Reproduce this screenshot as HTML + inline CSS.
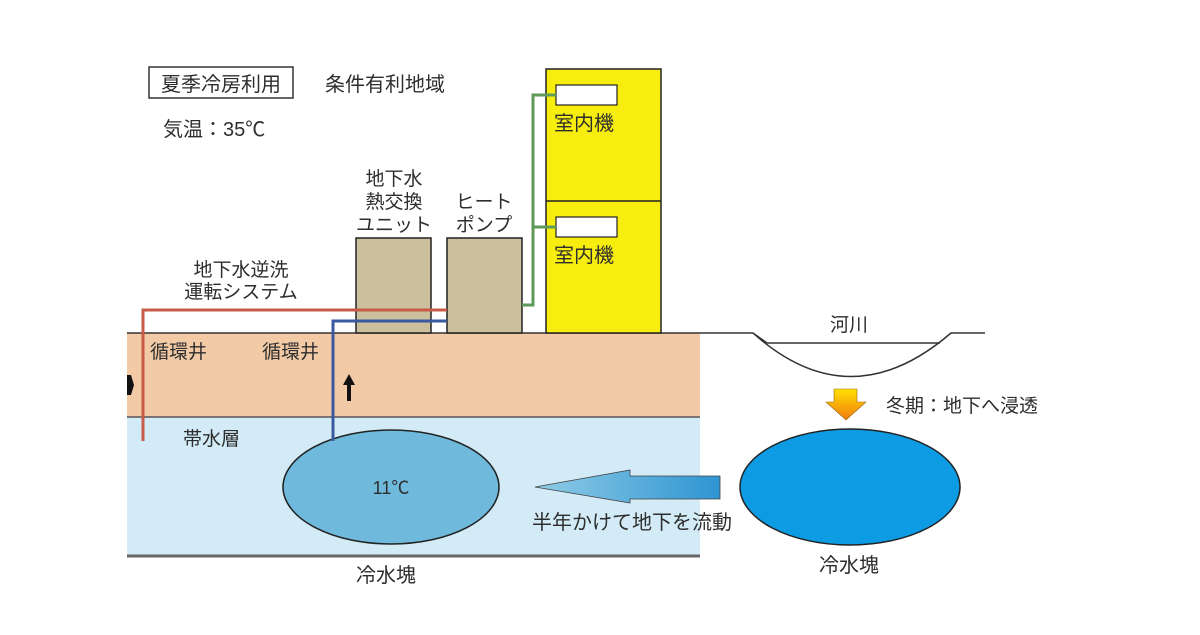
<!DOCTYPE html>
<html><head><meta charset="utf-8"><style>
html,body{margin:0;padding:0;background:#fff;}
svg text{font-family:"Liberation Sans","Noto Sans CJK JP",sans-serif;fill:#2e2e2e;}
</style></head><body>
<svg width="1200" height="630" viewBox="0 0 1200 630" xmlns="http://www.w3.org/2000/svg">
<defs>
<linearGradient id="ag" x1="0" x2="1" y1="0" y2="0"><stop offset="0" stop-color="#8fcbe6"/><stop offset="1" stop-color="#2f95d2"/></linearGradient>
<linearGradient id="og" x1="0" x2="0" y1="0" y2="1"><stop offset="0" stop-color="#ffe000"/><stop offset="1" stop-color="#f07a10"/></linearGradient>
</defs>
<rect x="127" y="333" width="573" height="84" fill="#f2caa6"/>
<rect x="127" y="417" width="573" height="139" fill="#d2ebf6"/>
<line x1="127" y1="417" x2="700" y2="417" stroke="#555" stroke-width="1.5"/>
<line x1="127" y1="556" x2="700" y2="556" stroke="#666" stroke-width="3"/>
<path d="M127 333 H753 L767 343" fill="none" stroke="#333" stroke-width="1.5"/>
<path d="M753 333 Q850 420 951 333 H985" fill="none" stroke="#333" stroke-width="1.5"/>
<line x1="767" y1="343" x2="940" y2="343" stroke="#333" stroke-width="1.5"/>
<rect x="356" y="238" width="75" height="95" fill="#cbbf9e" stroke="#222" stroke-width="1.5"/>
<rect x="447" y="238" width="75" height="95" fill="#cbbf9e" stroke="#222" stroke-width="1.5"/>
<rect x="546" y="69" width="115" height="264" fill="#f7ed0e" stroke="#222" stroke-width="1.5"/>
<line x1="546" y1="201" x2="661" y2="201" stroke="#222" stroke-width="1.5"/>
<rect x="556" y="85" width="61" height="20" fill="#fff" stroke="#222" stroke-width="1.2"/>
<rect x="556" y="217" width="61" height="20" fill="#fff" stroke="#222" stroke-width="1.2"/>
<path d="M143 441 V310 H447" fill="none" stroke="#c85a48" stroke-width="3"/>
<path d="M333 441 V321 H447" fill="none" stroke="#3a5aa0" stroke-width="3"/>
<path d="M522 305 H533 V95 H556 M533 227 H556" fill="none" stroke="#5e9a5a" stroke-width="3"/>
<ellipse cx="391" cy="487" rx="108" ry="57" fill="#6fb9dc" stroke="#222" stroke-width="1.5"/>
<line x1="333" y1="420" x2="333" y2="441" stroke="#3a5aa0" stroke-width="3"/>
<ellipse cx="850" cy="487" rx="110" ry="58" fill="#0d9ce4" stroke="#222" stroke-width="1.5"/>
<path d="M720 476 V499 H630 V503 L535 487 L630 470 V476 Z" fill="url(#ag)" stroke="#444" stroke-width="0.8"/>
<path d="M834 389 H857 V402 H866 L846 420 L826 402 H834 Z" fill="url(#og)" stroke="#9a6a10" stroke-width="0.6"/>
<path d="M347 401 V385 H343 L349 374 L355 385 H351 V401 Z" fill="#111"/>
<path d="M127 375 H131 L134 385 L131 395 H127 Z" fill="#111"/>
<rect x="149" y="67" width="144" height="31" fill="#fff" stroke="#333" stroke-width="1.5"/>
<text x="221" y="91" font-size="20" text-anchor="middle">夏季冷房利用</text>
<text x="325" y="91" font-size="20">条件有利地域</text>
<text x="163" y="136" font-size="20">気温：35℃</text>
<text x="394" y="185" font-size="19" text-anchor="middle">地下水</text>
<text x="394" y="208" font-size="19" text-anchor="middle">熱交換</text>
<text x="394" y="231" font-size="19" text-anchor="middle">ユニット</text>
<text x="484" y="208" font-size="19" text-anchor="middle">ヒート</text>
<text x="484" y="231" font-size="19" text-anchor="middle">ポンプ</text>
<text x="554" y="130" font-size="20">室内機</text>
<text x="554" y="262" font-size="20">室内機</text>
<text x="241" y="276" font-size="19" text-anchor="middle">地下水逆洗</text>
<text x="241" y="298" font-size="19" text-anchor="middle">運転システム</text>
<text x="150" y="358" font-size="19">循環井</text>
<text x="262" y="358" font-size="19">循環井</text>
<text x="183" y="445" font-size="19">帯水層</text>
<text x="391" y="494" font-size="18" text-anchor="middle">11℃</text>
<text x="386" y="582" font-size="20" text-anchor="middle">冷水塊</text>
<text x="632" y="529" font-size="20" text-anchor="middle">半年かけて地下を流動</text>
<text x="849" y="331" font-size="19" text-anchor="middle">河川</text>
<text x="886" y="412" font-size="19">冬期：地下へ浸透</text>
<text x="849" y="572" font-size="20" text-anchor="middle">冷水塊</text>
</svg>
</body></html>
